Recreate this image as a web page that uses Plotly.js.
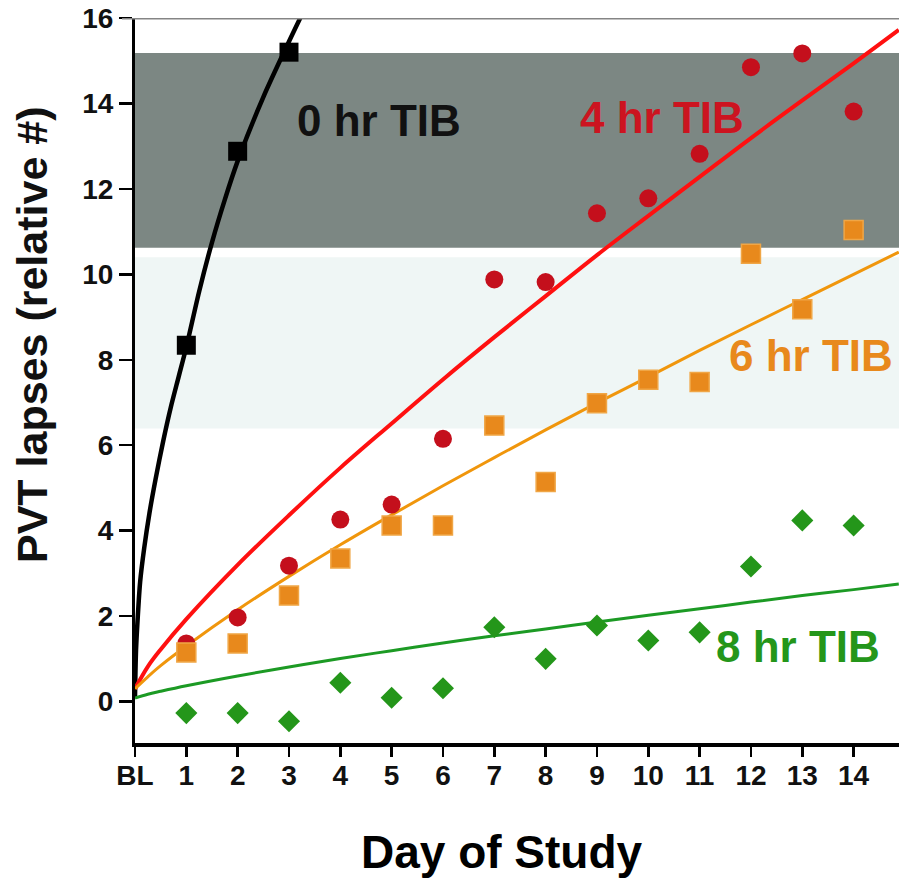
<!DOCTYPE html>
<html>
<head>
<meta charset="utf-8">
<script src="https://cdn.plot.ly/plotly-3.0.1.min.js"></script>
<style>html,body{margin:0;padding:0;background:#fff;}#chart{width:899px;height:884px;}</style>
</head>
<body>
<div id="chart"></div>
<script>
// ---- data ----
const days = [1, 2, 3, 4, 5, 6, 7, 8, 9, 10, 11, 12, 13, 14];
const tickVals = [0, 1, 2, 3, 4, 5, 6, 7, 8, 9, 10, 11, 12, 13, 14];
const tickLabels = ['BL', '1', '2', '3', '4', '5', '6', '7', '8', '9', '10', '11', '12', '13', '14'];

const days0hr = [1, 2, 3];
const lapses0hr = [8.34, 12.88, 15.2];
const lapses4hr = [1.36, 1.97, 3.18, 4.26, 4.61, 6.15, 9.88, 9.82, 11.43, 11.78, 12.82, 14.85, 15.17, 13.81];
const lapses6hr = [1.15, 1.36, 2.48, 3.35, 4.12, 4.12, 6.46, 5.14, 6.98, 7.53, 7.48, 10.48, 9.18, 11.04];
const lapses8hr = [-0.27, -0.27, -0.46, 0.44, 0.09, 0.31, 1.74, 1.0, 1.78, 1.43, 1.62, 3.16, 4.24, 4.12];

// fitted curves
const fit0hrX = [0, 0.02, 0.05, 0.1, 0.18, 0.28, 0.4, 0.55, 0.7, 0.85, 1.0, 1.25, 1.5, 1.75, 2.0, 2.5, 3.0, 3.3];
const fit0hrY = [0.1, 1.2, 1.9, 2.8, 3.6, 4.4, 5.2, 6.1, 6.9, 7.6, 8.3, 9.6, 10.75, 11.75, 12.65, 14.15, 15.45, 16.2];
const fitX = [0, 0.25, 0.5, 1, 2, 3, 4, 5, 6, 7, 8, 9, 10, 11, 12, 13, 14, 14.88];
const fit4hrY = [0.3, 0.82, 1.22, 1.93, 3.2, 4.36, 5.47, 6.51, 7.54, 8.53, 9.49, 10.45, 11.37, 12.28, 13.19, 14.07, 14.94, 15.72];
const fit6hrY = [0.3, 0.58, 0.84, 1.3, 2.15, 2.93, 3.67, 4.37, 5.05, 5.71, 6.36, 6.99, 7.6, 8.22, 8.82, 9.41, 10.0, 10.52];
const fit8hrY = [0.08, 0.17, 0.24, 0.37, 0.6, 0.81, 1.01, 1.19, 1.37, 1.54, 1.7, 1.86, 2.02, 2.17, 2.33, 2.48, 2.62, 2.75];

const seriesNames = ['0 hr TIB', '4 hr TIB', '6 hr TIB', '8 hr TIB'];
const xTitle = 'Day of Study';
const yTitle = 'PVT lapses (relative #)';

const FONT = 'Liberation Sans, Arial, Helvetica, sans-serif';
const cBlack = '#000000', cRed = '#c40f1c', cRedLine = '#ff1010', cOrange = '#e8891c', cOrangeLine = '#f0960c', cGreen = '#24961a', cGreenLine = '#1c9a24';

const traces = [
  {x: fit0hrX, y: fit0hrY, mode: 'lines', line: {color: cBlack, width: 4.5, shape: 'spline', smoothing: 0.8}, hoverinfo: 'skip', showlegend: false},
  {x: fitX, y: fit4hrY, mode: 'lines', line: {color: cRedLine, width: 4, shape: 'spline'}, hoverinfo: 'skip', showlegend: false},
  {x: fitX, y: fit6hrY, mode: 'lines', line: {color: cOrangeLine, width: 3, shape: 'spline'}, hoverinfo: 'skip', showlegend: false},
  {x: fitX, y: fit8hrY, mode: 'lines', line: {color: cGreenLine, width: 3, shape: 'spline'}, hoverinfo: 'skip', showlegend: false},
  {x: days0hr, y: lapses0hr, name: seriesNames[0], mode: 'markers', marker: {symbol: 'square', size: 19, color: cBlack}, showlegend: false},
  {x: days, y: lapses4hr, name: seriesNames[1], mode: 'markers', marker: {symbol: 'circle', size: 18, color: cRed}, showlegend: false},
  {x: days, y: lapses6hr, name: seriesNames[2], mode: 'markers', marker: {symbol: 'square', size: 19, color: cOrange, line: {color: '#f0a646', width: 1.5}}, showlegend: false},
  {x: days, y: lapses8hr, name: seriesNames[3], mode: 'markers', marker: {symbol: 'diamond', size: 17, color: cGreen}, showlegend: false}
];

const L = 135, R = 0, T = 18, B = 141, W = 899, H = 884;
const px2paperX = p => (p - L) / (W - L - R);
const px2paperY = p => (H - B - p) / (H - B - T);

const layout = {
  width: W, height: H,
  margin: {l: L, r: R, t: T, b: B, pad: 0},
  paper_bgcolor: '#ffffff', plot_bgcolor: '#ffffff',
  font: {family: FONT, color: '#111111'},
  showlegend: false,
  xaxis: {
    range: [0, 14.884], tickmode: 'array', tickvals: tickVals, ticktext: tickLabels,
    showgrid: false, zeroline: false, showline: true, linecolor: '#000', linewidth: 4,
    ticks: 'outside', ticklen: 10, tickwidth: 2.5, tickcolor: '#000', ticklabelstandoff: -6,
    tickfont: {family: FONT, size: 28, color: '#111', weight: 'bold'},
    fixedrange: true
  },
  yaxis: {
    range: [-0.97, 16], tickmode: 'linear', tick0: 0, dtick: 2,
    showgrid: false, zeroline: false, showline: true, linecolor: '#000', linewidth: 3,
    ticks: 'outside', ticklen: 13, tickwidth: 2.5, tickcolor: '#000',
    tickfont: {family: FONT, size: 28, color: '#111', weight: 'bold'},
    fixedrange: true
  },
  shapes: [
    {type: 'rect', xref: 'paper', yref: 'y', x0: 0, x1: 1, y0: 10.62, y1: 15.18, fillcolor: '#7c8783', line: {width: 0}, layer: 'below'},
    {type: 'rect', xref: 'paper', yref: 'y', x0: 0, x1: 1, y0: 6.39, y1: 10.40, fillcolor: '#eff6f5', line: {width: 0}, layer: 'below'},
    {type: 'line', xref: 'paper', yref: 'y', x0: -0.017, x1: 1, y0: 16, y1: 16, line: {color: '#858585', width: 3}}
  ],
  annotations: [
    {text: seriesNames[0], x: 4.75, y: 13.61, xref: 'x', yref: 'y', showarrow: false, xanchor: 'center', yanchor: 'middle', font: {family: FONT, size: 44, color: '#111', weight: 'bold'}},
    {text: seriesNames[1], x: 10.27, y: 13.68, xref: 'x', yref: 'y', showarrow: false, xanchor: 'center', yanchor: 'middle', font: {family: FONT, size: 44, color: '#cc1420', weight: 'bold'}},
    {text: seriesNames[2], x: 13.17, y: 8.09, xref: 'x', yref: 'y', showarrow: false, xanchor: 'center', yanchor: 'middle', font: {family: FONT, size: 44, color: '#e8891c', weight: 'bold'}},
    {text: seriesNames[3], x: 12.92, y: 1.28, xref: 'x', yref: 'y', showarrow: false, xanchor: 'center', yanchor: 'middle', font: {family: FONT, size: 44, color: '#24961a', weight: 'bold'}},
    {text: xTitle, x: px2paperX(502), y: px2paperY(852), xref: 'paper', yref: 'paper', showarrow: false, xanchor: 'center', yanchor: 'middle', font: {family: FONT, size: 46, color: '#000', weight: 'bold'}},
    {text: yTitle, x: px2paperX(32), y: px2paperY(335), xref: 'paper', yref: 'paper', showarrow: false, textangle: -90, xanchor: 'center', yanchor: 'middle', font: {family: FONT, size: 43, color: '#111', weight: 'bold'}}
  ]
};

Plotly.newPlot('chart', traces, layout, {displayModeBar: false, staticPlot: true});
</script>
</body>
</html>
